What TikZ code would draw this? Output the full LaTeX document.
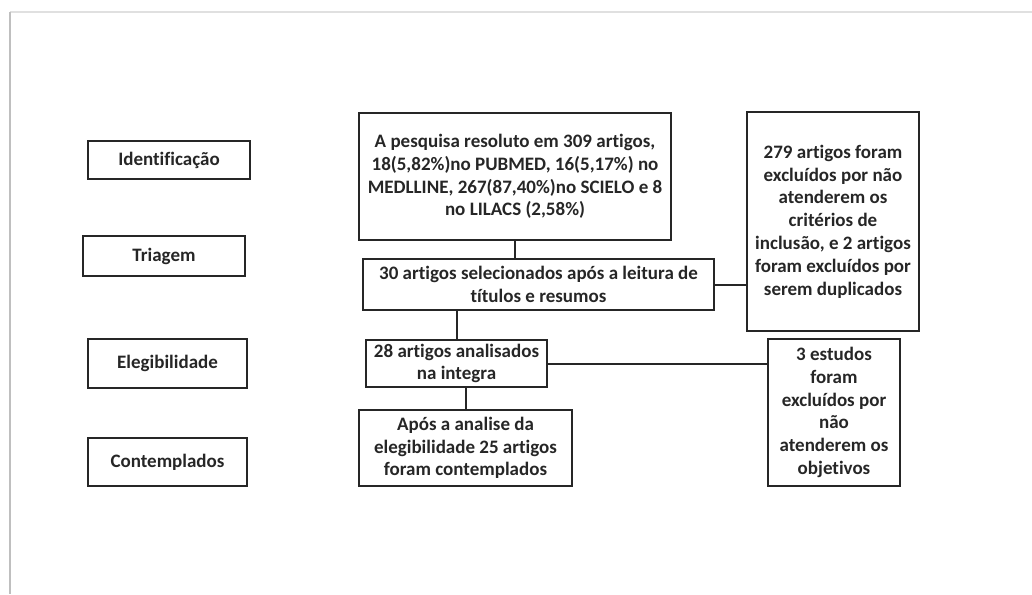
\documentclass[tikz,border=0pt]{standalone}
\usepackage{fontspec}
\setmainfont{Carlito}[RawFeature=-liga]
\begin{document}
\begin{tikzpicture}[x=1pt,y=-1pt,
  box/.style={draw=black!85,line width=2pt,rectangle,inner sep=0pt,align=center,
    font=\fontsize{19}{22.8}\selectfont\bfseries,text=black!85},
  link/.style={draw=black!85,line width=2pt}]
\useasboundingbox (0,0) rectangle (1032,594);
% frame
\draw[black!12,line width=2pt] (10,12) -- (1032,12);
\draw[black!25,line width=2pt] (10,12) -- (10,594);
% left labels
\node[box,minimum width=162pt,minimum height=38pt] (ident) at (169,160) {Identificação};
\node[box,minimum width=162pt,minimum height=40pt] (triag) at (164,256) {Triagem};
\node[box,minimum width=159pt,minimum height=49pt] (eleg) at (167.5,363.5) {Elegibilidade};
\node[box,minimum width=159pt,minimum height=48pt] (cont) at (167.5,462) {Contemplados};
% main flow
\node[box,minimum width=312pt,minimum height=127pt] (b1) at (515,176.5)
  {A pesquisa resoluto em 309 artigos,\\18(5,82\%)no PUBMED, 16(5,17\%) no\\MEDLLINE, 267(87,40\%)no SCIELO e 8\\no LILACS (2,58\%)};
\node[box,minimum width=351pt,minimum height=51pt] (b2) at (538.5,284.5)
  {30 artigos selecionados após a leitura de\\títulos e resumos};
\node[box,minimum width=172pt,minimum height=219pt] (b279) at (833,221.5)
  {279 artigos foram\\excluídos por não\\atenderem os\\critérios de\\inclusão, e 2 artigos\\foram excluídos por\\serem duplicados};
\node[box,minimum width=181pt,minimum height=47pt] (b3) at (456.5,363.5)
  {28 artigos analisados\\na integra};
\node[box,minimum width=132pt,minimum height=147pt] (b3e) at (834,412.5)
  {3 estudos\\foram\\excluídos por\\não\\atenderem os\\objetivos};
\node[box,minimum width=213pt,minimum height=76pt] (b4) at (465.5,448)
  {Após a analise da\\elegibilidade 25 artigos\\foram contemplados};
% connectors
\draw[link] (b1.south) -- (b1.south |- b2.north);
\draw[link] (b2.east) -- (b2.east -| b279.west);
\draw[link] (b3.north |- b2.south) -- (b3.north);
\draw[link] (b3.east) -- (b3.east -| b3e.west);
\draw[link] (b4.north |- b3.south) -- (b4.north);
\end{tikzpicture}
\end{document}
